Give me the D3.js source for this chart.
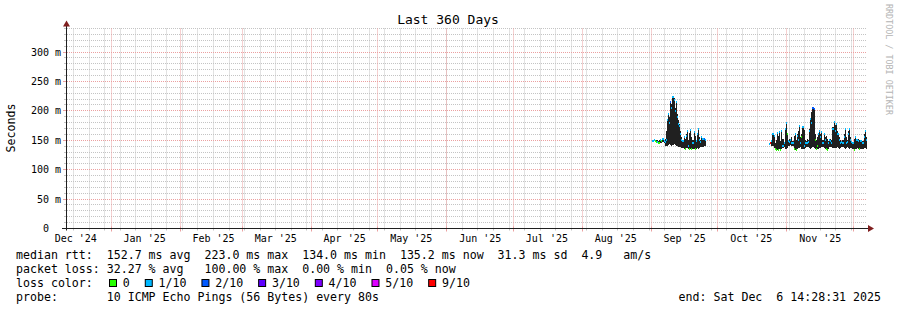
<!DOCTYPE html>
<html><head><meta charset="utf-8">
<script src="https://cdn.jsdelivr.net/npm/d3@7"></script>
<style>
body{margin:0;background:#fff}
svg{display:block}
text{font-family:"DejaVu Sans Mono",monospace;white-space:pre}
</style>
</head><body>
<svg id="chart" width="897" height="310"></svg>
<script>
// ---------- data ----------
const titleText = "Last 360 Days";
const yAxisTitle = "Seconds";
const startTime = new Date(2024, 11, 11, 14, 28, 31);
const endTime = new Date(2025, 11, 6, 14, 28, 31);
const yMax = 340;
const yTickValues = [0, 50, 100, 150, 200, 250, 300];
const yTickLabels = ["0  ", "50 m", "100 m", "150 m", "200 m", "250 m", "300 m"];
const monthTickLabels = ["Dec '24","Jan '25","Feb '25","Mar '25","Apr '25","May '25","Jun '25","Jul '25","Aug '25","Sep '25","Oct '25","Nov '25"];
const stepHours = 12;

// cluster 1: from 2025-09-01 12:00, one point per 12 h (values in ms)
const c1Start = new Date(2025, 8, 1, 12, 0, 0);
const c1Hi  = [151,151,150,151,150,149,150,152,151,153,150,152,165,185,195,190,215,212,224,222,205,215,195,185,178,165,155,150,156,152,160,165,150,162,167,155,150,164,158,150,163,169,155,150,156,153,154,152];
const c1Lo  = [148,148,147,146,146,145,145,146,146,147,146,140,140,141,142,143,142,141,142,143,142,141,140,139,138,138,137,137,136,136,137,137,136,135,135,135,136,135,135,136,137,136,137,138,138,139,140,141];
const c1Med = [149,150,148,147,147,145,145,150,148,152,148,147,150,185,195,180,215,205,224,218,200,215,190,178,175,160,150,148,155,136,158,165,140,135,167,135,145,164,135,148,160,169,150,147,155,152,153,150];
const c1Loss= [1,1,0,0,1,0,0,1,0,1,1,1,1,1,1,1,2,1,1,1,1,1,1,1,1,1,1,1,1,0,1,1,1,0,1,0,1,1,0,1,1,1,1,1,1,1,2,1];

// cluster 2: from 2025-10-24 00:00, one point per 12 h (values in ms)
const c2Start = new Date(2025, 9, 24, 0, 0, 0);
const c2Hi  = [146,146,150,161,158,145,150,163,157,164,148,167,152,146,170,179,160,150,153,150,155,148,158,161,150,160,165,175,155,160,173,168,150,148,152,150,170,186,198,205,204,160,150,155,162,166,160,164,150,161,155,158,152,148,150,152,150,172,181,176,178,165,161,155,150,148,150,160,169,155,150,165,170,155,148,147,152,155,153,152,153,150,151,150,148,160,165,155];
const c2Lo  = [143,143,141,140,137,135,134,134,134,135,134,135,137,138,136,136,137,140,141,142,141,140,135,134,134,136,137,137,138,136,135,136,137,138,138,139,137,136,137,138,137,136,135,135,136,137,137,138,138,137,136,135,134,136,138,139,138,137,137,137,137,138,137,136,137,138,138,137,136,137,138,137,136,137,137,136,134,135,136,137,136,135,135,136,136,137,137,136];
const c2Med = [144,145,148,161,158,135,134,163,134,164,134,166,140,145,170,179,160,148,147,150,146,145,135,161,134,158,150,175,145,155,173,140,145,145,146,147,165,186,180,205,204,150,135,140,160,166,155,164,146,160,150,135,134,145,150,148,145,170,181,165,178,160,161,150,145,147,146,155,169,145,147,160,170,150,147,145,134,155,150,150,148,135,149,148,145,155,165,150];
const c2Loss= [1,6,1,1,1,0,0,1,0,1,0,1,1,1,1,1,0,1,1,1,1,1,0,1,0,1,1,1,1,0,1,1,1,1,1,1,1,1,1,2,2,0,0,0,1,1,1,1,1,1,1,0,0,1,1,1,1,1,1,1,1,1,1,1,1,1,1,1,1,1,1,1,1,1,1,1,0,1,1,1,1,0,1,1,1,1,1,1];

const lossLabels = ["0", "1/10", "2/10", "3/10", "4/10", "5/10", "9/10"];
const lossColors = ["#26ff00", "#00b8ff", "#0059ff", "#5e00ff", "#7e00ff", "#dd00ff", "#ff0000"];

const legendRtt  = "median rtt:  152.7 ms avg  223.0 ms max  134.0 ms min  135.2 ms now  31.3 ms sd  4.9   am/s";
const legendLoss = "packet loss: 32.27 % avg   100.00 % max  0.00 % min  0.05 % now";
const legendLossColor = "loss color:";
const legendProbe = "probe:       10 ICMP Echo Pings (56 Bytes) every 80s";
const legendEnd = "end: Sat Dec  6 14:28:31 2025";
const watermark = "RRDTOOL / TOBI OETIKER";

// ---------- layout ----------
const X0 = 66, X1 = 866, Y0 = 228.5, Y1 = 28.5;
const svg = d3.select("#chart");
svg.append("rect").attr("width", 897).attr("height", 310).attr("fill", "#ffffff");

const x = d3.scaleTime().domain([startTime, endTime]).range([X0, X1]);
const y = d3.scaleLinear().domain([0, yMax]).range([Y0, Y1]);
const snap = v => Math.floor(v) + 0.5;

const gridCol = "#c4c4c4";
const mgridCol = "#eba0a0";
const axisCol = "#1f1f1f";
const arrowCol = "#801f1f";

const g = svg.append("g");

// horizontal minor grid (10 ms)
const minorY = d3.range(10, yMax + 1, 10).filter(v => v % 50 !== 0);
minorY.forEach(v => {
  const yy = snap(y(v));
  g.append("line").attr("x1", X0 + 1).attr("x2", X1).attr("y1", yy).attr("y2", yy)
    .attr("stroke", gridCol).attr("stroke-width", 1).attr("stroke-dasharray", "1,1");
  g.append("line").attr("x1", X0 - 2).attr("x2", X0).attr("y1", yy).attr("y2", yy).attr("stroke", gridCol);
});
// vertical minor grid (weeks)
d3.timeSunday.range(startTime, endTime).forEach(t => {
  const xx = snap(x(t));
  g.append("line").attr("x1", xx).attr("x2", xx).attr("y1", Y1).attr("y2", Y0)
    .attr("stroke", gridCol).attr("stroke-width", 1).attr("stroke-dasharray", "1,1");
  g.append("line").attr("x1", xx).attr("x2", xx).attr("y1", Y0).attr("y2", Y0 + 2).attr("stroke", gridCol);
});
// major horizontal grid
yTickValues.filter(v => v > 0).forEach(v => {
  const yy = snap(y(v));
  g.append("line").attr("x1", X0 + 1).attr("x2", X1).attr("y1", yy).attr("y2", yy)
    .attr("stroke", mgridCol).attr("stroke-width", 1).attr("stroke-dasharray", "1,1");
  g.append("line").attr("x1", X0 - 3).attr("x2", X0 + 2).attr("y1", yy).attr("y2", yy).attr("stroke", mgridCol);
});
// major vertical grid (months)
const months = d3.timeMonth.range(startTime, endTime);
months.forEach(t => {
  const xx = snap(x(t));
  g.append("line").attr("x1", xx).attr("x2", xx).attr("y1", Y1).attr("y2", Y0)
    .attr("stroke", mgridCol).attr("stroke-width", 1).attr("stroke-dasharray", "1,1");
  g.append("line").attr("x1", xx).attr("x2", xx).attr("y1", Y0 - 2).attr("y2", Y0 + 3).attr("stroke", mgridCol);
});

// y labels
yTickValues.forEach((v, i) => {
  svg.append("text").attr("x", 61).attr("y", snap(y(v)) + 3.5)
    .attr("text-anchor", "end").attr("font-size", 10).attr("fill", "#000").text(yTickLabels[i]);
});
// x labels (placed mid-month, as rrdtool does)
const monthStarts = d3.timeMonth.range(d3.timeMonth.floor(startTime), endTime);
monthStarts.forEach((t, i) => {
  const lt = d3.timeDay.offset(t, 15);
  if (lt > endTime) return;
  svg.append("text").attr("x", x(lt)).attr("y", 242)
    .attr("text-anchor", "middle").attr("font-size", 10).attr("fill", "#000").text(monthTickLabels[i]);
});

// ---------- data marks ----------
function drawCluster(start, hi, lo, med, loss) {
  const pts = hi.map((h, i) => ({
    t0: d3.timeHour.offset(start, i * stepHours),
    t1: d3.timeHour.offset(start, (i + 1) * stepHours),
    hi: h, lo: lo[i], med: med[i], loss: loss[i]
  }));
  const cg = svg.append("g").attr("shape-rendering", "crispEdges");
  cg.selectAll("rect.smoke").data(pts).join("rect").attr("class", "smoke")
    .attr("x", d => x(d.t0)).attr("width", d => x(d.t1) - x(d.t0))
    .attr("y", d => y(d.hi)).attr("height", d => Math.max(1, y(d.lo) - y(d.hi)))
    .attr("fill", "#202020");
  cg.selectAll("rect.med").data(pts).join("rect").attr("class", "med")
    .attr("x", d => x(d.t0)).attr("width", d => x(d.t1) - x(d.t0))
    .attr("y", d => y(d.med) - 1).attr("height", 2)
    .attr("fill", d => lossColors[d.loss]);
}
drawCluster(c1Start, c1Hi, c1Lo, c1Med, c1Loss);
drawCluster(c2Start, c2Hi, c2Lo, c2Med, c2Loss);

// ---------- axes ----------
svg.append("line").attr("x1", X0 - 4).attr("x2", X1 + 4).attr("y1", Y0).attr("y2", Y0)
  .attr("stroke", axisCol).attr("stroke-width", 1);
svg.append("line").attr("x1", X0 + 0.5).attr("x2", X0 + 0.5).attr("y1", Y0 + 2).attr("y2", Y1 - 4)
  .attr("stroke", axisCol).attr("stroke-width", 1);
// arrows
svg.append("path").attr("d", `M${X1 + 2},${Y0 - 3.5} L${X1 + 8},${Y0} L${X1 + 2},${Y0 + 3.5} Z`).attr("fill", arrowCol);
svg.append("path").attr("d", `M${X0 + 0.5 - 3.5},${Y1 - 2} L${X0 + 0.5},${Y1 - 8} L${X0 + 0.5 + 3.5},${Y1 - 2} Z`).attr("fill", arrowCol);

// ---------- texts ----------
svg.append("text").attr("x", 448).attr("y", 24).attr("text-anchor", "middle")
  .attr("font-size", 13).attr("fill", "#000").text(titleText);
svg.append("text").attr("transform", "translate(15,128) rotate(-90)").attr("text-anchor", "middle")
  .attr("font-size", 11.6).attr("fill", "#000").text(yAxisTitle);
svg.append("text").attr("transform", "translate(885.5,4) rotate(90)").attr("text-anchor", "start")
  .attr("font-size", 8.4).attr("fill", "#b4b4b4").text(watermark);

const LF = 11.6, CW = 6.97, LX = 16;
svg.append("text").attr("x", LX).attr("y", 259).attr("font-size", LF).text(legendRtt);
svg.append("text").attr("x", LX).attr("y", 273).attr("font-size", LF).text(legendLoss);
svg.append("text").attr("x", LX).attr("y", 287).attr("font-size", LF).text(legendLossColor);
let bx = 109;
lossLabels.forEach((lab, i) => {
  svg.append("rect").attr("x", bx + 0.5).attr("y", 279.5).attr("width", 7).attr("height", 7)
    .attr("fill", lossColors[i]).attr("stroke", "#000").attr("stroke-width", 1);
  svg.append("text").attr("x", bx + 13.8).attr("y", 287).attr("font-size", LF).text(lab);
  bx = bx + 13.8 + lab.length * CW + 15;
});
svg.append("text").attr("x", LX).attr("y", 301).attr("font-size", LF).text(legendProbe);
svg.append("text").attr("x", 881).attr("y", 301).attr("text-anchor", "end").attr("font-size", LF).text(legendEnd);
</script>
</body></html>
